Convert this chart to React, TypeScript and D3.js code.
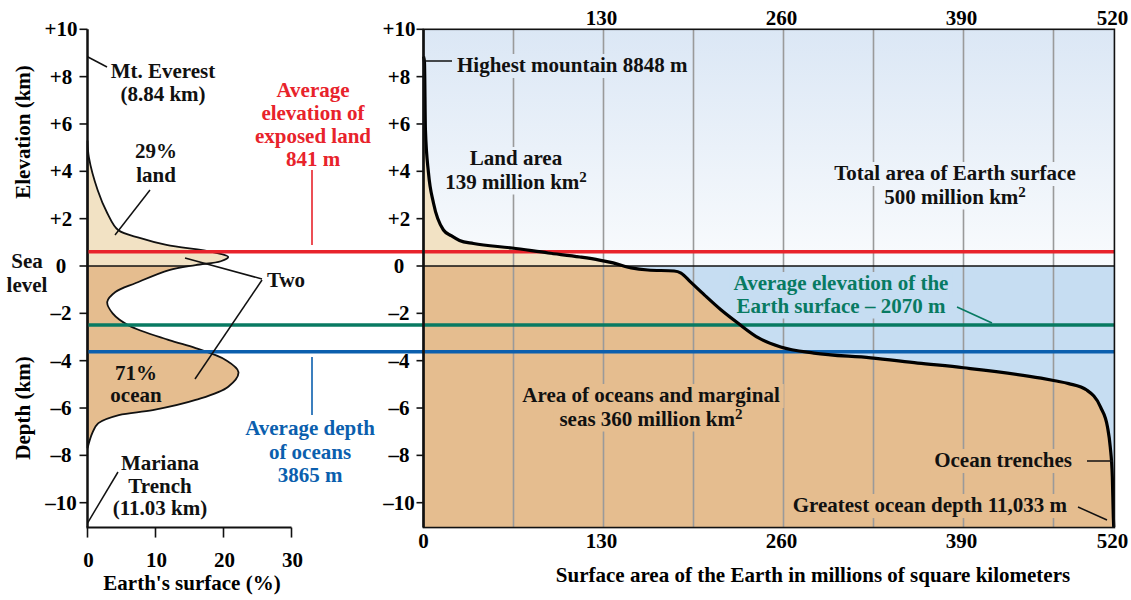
import * as d3 from "d3";
import * as React from "react";

// axis ticks
const elevTicks = [10, 8, 6, 4, 2, 0, -2, -4, -6, -8, -10];
const pctTicks = [0, 10, 20, 30];
const areaTicks = [0, 130, 260, 390, 520];
const gridAreas = [65, 130, 195, 260, 325, 390, 455];

// frequency distribution of elevations (left panel)
const distElevation = [
  5.3, 4.6, 3.2, 2.24, 1.52, 1.18, 0.89, 0.59, 0.38, 0.2, 0.04, -0.17, -0.72,
  -1.1, -1.52, -2.0, -2.5, -3.13, -3.47, -3.97, -4.48, -5.1, -5.66, -6.09, -6.3,
  -6.64, -7.06, -7.7,
];
const distPercent = [
  0, 0.2, 1.5, 2.9, 4.5, 7.8, 11.6, 18.4, 20.7, 19.6, 15.9, 12.0, 7.1, 4.1, 2.9,
  3.7, 6.0, 12.0, 15.9, 20.3, 22.2, 20.7, 15.9, 9.6, 4.6, 1.6, 0.7, 0,
];

// hypsographic curve (right panel)
const hypsoArea = [
  0, 0.7, 1.4, 3.6, 7.2, 14.4, 20, 26, 36.1, 64, 90, 113, 127, 137, 150, 162,
  181, 186, 193, 203, 215, 227, 242, 258, 282, 323, 357, 390, 446, 456, 466,
  479, 489, 494, 496, 497.5, 498.2, 498.5,
];
const hypsoElevation = [
  8.85, 8.6, 5.75, 3.93, 2.66, 1.52, 1.28, 1.08, 0.95, 0.76, 0.55, 0.38, 0.25,
  0.13, -0.08, -0.17, -0.21, -0.3, -0.68, -1.23, -1.86, -2.41, -3.04, -3.42,
  -3.68, -3.88, -4.1, -4.3, -4.74, -4.85, -4.97, -5.24, -5.96, -6.8, -7.65,
  -8.92, -10.6, -11.03,
];

// reference levels (km)
const landMean = 0.6;
const earthMean = -2.49;
const oceanMean = -3.62;
const areaEnd = 499;
const depthBottom = -11.05;

const FONT = '"Liberation Serif", "Times New Roman", serif';
const FS = 21;
const RED = "#e8232b";
const TEAL = "#087a62";
const BLUE = "#0b5fae";
const BEIGE = "#f2e2c4";
const TAN = "#e5bd8f";
const WATER = "#c6ddf2";

let ctx: CanvasRenderingContext2D | null = null;
const textWidth = (s: string) => {
  if (!ctx) ctx = document.createElement("canvas").getContext("2d");
  if (!ctx) return s.length * FS * 0.5;
  ctx.font = `bold ${FS}px "Liberation Serif"`;
  return ctx.measureText(s).width;
};

const fmt = (v: number) => (v > 0 ? `+${v}` : v < 0 ? `\u2013${-v}` : "0");

// "^" marks a superscript 2
const renderLine = (l: string) => {
  const parts = l.split("^");
  if (parts.length === 1) return l;
  return (
    <>
      {parts[0]}
      <tspan dy={-7} fontSize={15}>
        2
      </tspan>
    </>
  );
};

interface ILabelProps {
  x: number;
  y: number;
  lines: string[];
  fill?: string;
  anchor?: "start" | "middle" | "end";
  gap?: number;
  bg?: string;
}

const Label = (props: ILabelProps) => {
  const { x, y, lines, fill = "#111", anchor = "middle", gap = 23.5, bg } = props;
  return (
    <g>
      {bg &&
        lines.map((l, i) => {
          const w = textWidth(l.replace("^", "2")) + 8;
          const x0 = anchor === "middle" ? x - w / 2 : anchor === "end" ? x - w + 4 : x - 4;
          return <rect key={"b" + i} x={x0} y={y + i * gap - 18} width={w} height={24} fill={bg} />;
        })}
      {lines.map((l, i) => (
        <text key={i} x={x} y={y + i * gap} textAnchor={anchor} fill={fill}>
          {renderLine(l)}
        </text>
      ))}
    </g>
  );
};

const App = () => {
  const yS = d3.scaleLinear().domain([10, -10]).range([29.3, 502.7]);
  const pS = d3.scaleLinear().domain([0, 30]).range([87.5, 291.5]);
  const aS = d3.scaleLinear().domain([0, 520]).range([423.5, 1143.5]);

  const y0 = yS(0);
  const yTop = yS(10);
  const yBot = yS(depthBottom);
  const xL = aS(0);
  const xR = aS(areaEnd);

  const distPts: [number, number][] = distPercent.map((p, i) => [pS(p), yS(distElevation[i])]);
  const distPath = d3.line().curve(d3.curveCatmullRom.alpha(0.5))(distPts) + "Z";

  const hypso = hypsoArea.map((a, i) => ({ a, e: hypsoElevation[i] }));
  const hypsoLine = d3
    .line<{ a: number; e: number }>()
    .x((d) => aS(d.a))
    .y((d) => yS(d.e))
    .curve(d3.curveMonotoneX)(hypso);
  const hypsoFill = d3
    .area<{ a: number; e: number }>()
    .x((d) => aS(d.a))
    .y0(yBot)
    .y1((d) => yS(d.e))
    .curve(d3.curveMonotoneX)(hypso);

  const levels = [
    { v: landMean, c: RED },
    { v: earthMean, c: TEAL },
    { v: oceanMean, c: BLUE },
  ];

  return (
    <svg
      width={1131}
      height={600}
      style={{ position: "absolute", left: 0, top: 0, background: "#fff" }}
      fontFamily={FONT}
      fontWeight="bold"
      fontSize={FS}
    >
      <defs>
        <linearGradient id="sky" gradientUnits="userSpaceOnUse" x1={0} y1={yTop} x2={0} y2={y0}>
          <stop offset="0" stopColor="#dbe7f5" />
          <stop offset="1" stopColor="#f9fbfd" />
        </linearGradient>
        <clipPath id="above0">
          <rect x={0} y={0} width={1131} height={y0} />
        </clipPath>
        <clipPath id="below0">
          <rect x={0} y={y0} width={1131} height={600 - y0} />
        </clipPath>
        <clipPath id="distClip">
          <path d={distPath} />
        </clipPath>
      </defs>

      {/* ---------- left panel ---------- */}
      <path d={distPath} fill={BEIGE} clipPath="url(#above0)" />
      <path d={distPath} fill={TAN} clipPath="url(#below0)" />
      <line x1={pS(0)} x2={pS(30)} y1={y0} y2={y0} stroke="#111" strokeWidth={1.5} clipPath="url(#distClip)" />
      <path d={distPath} fill="none" stroke="#111" strokeWidth={1.8} />

      {/* left axes */}
      <line x1={pS(0)} x2={pS(0)} y1={yTop} y2={yBot} stroke="#111" strokeWidth={2.5} />
      <line x1={pS(0) - 1} x2={pS(30)} y1={yBot} y2={yBot} stroke="#111" strokeWidth={2} />
      {elevTicks.map((v) => (
        <g key={"ly" + v}>
          <line x1={pS(0) - 8} x2={pS(0)} y1={yS(v)} y2={yS(v)} stroke="#111" strokeWidth={1.6} />
          <text x={61} y={yS(v) + 7} textAnchor="middle">
            {fmt(v)}
          </text>
        </g>
      ))}
      {pctTicks.map((v) => (
        <g key={"lx" + v}>
          <line x1={pS(v)} x2={pS(v)} y1={yBot} y2={yBot + 10} stroke="#111" strokeWidth={1.6} />
          <text x={pS(v) + 1} y={567} textAnchor="middle">
            {v}
          </text>
        </g>
      ))}
      <text x={192} y={590} textAnchor="middle">
        Earth's surface (%)
      </text>
      <text transform={`translate(30,132) rotate(-90)`} textAnchor="middle">
        Elevation (km)
      </text>
      <text transform={`translate(30,408) rotate(-90)`} textAnchor="middle">
        Depth (km)
      </text>
      <Label x={27} y={268} lines={["Sea", "level"]} gap={24} />

      {/* ---------- right panel ---------- */}
      <rect x={xL} y={yTop} width={xR - xL} height={y0 - yTop} fill="url(#sky)" />
      <rect x={xL} y={y0} width={xR - xL} height={yBot - y0} fill={WATER} />
      <path d={hypsoFill || ""} fill={BEIGE} clipPath="url(#above0)" />
      <path d={hypsoFill || ""} fill={TAN} clipPath="url(#below0)" />

      {gridAreas.map((a) => (
        <line key={"g" + a} x1={aS(a)} x2={aS(a)} y1={yTop} y2={yBot} stroke="#9a9a9a" strokeWidth={1.6} />
      ))}

      {/* label backgrounds break the grid lines */}
      <Label x={457} y={72} lines={["Highest mountain 8848 m"]} anchor="start" bg="url(#sky)" />
      <Label x={516} y={165} lines={["Land area", "139 million km^"]} bg="url(#sky)" />
      <Label x={955} y={180} lines={["Total area of Earth surface", "500 million km^"]} bg="url(#sky)" />
      <Label
        x={841}
        y={290}
        lines={["Average elevation of the", "Earth surface \u2013 2070 m"]}
        fill={TEAL}
        gap={22.5}
        bg={WATER}
      />
      <Label x={651} y={402} lines={["Area of oceans and marginal", "seas 360 million km^"]} bg={TAN} />
      <Label x={1072} y={467} lines={["Ocean trenches"]} anchor="end" bg={TAN} />
      <Label x={1067} y={512} lines={["Greatest ocean depth 11,033 m"]} anchor="end" bg={TAN} />

      <line x1={xL} x2={xR} y1={y0} y2={y0} stroke="#111" strokeWidth={1.5} />

      {/* reference levels across both panels */}
      {levels.map((l) => (
        <line key={l.c} x1={pS(0) + 1} x2={xR} y1={yS(l.v)} y2={yS(l.v)} stroke={l.c} strokeWidth={3.6} />
      ))}

      <path d={hypsoLine || ""} fill="none" stroke="#000" strokeWidth={3.2} strokeLinejoin="round" />

      {/* frame + axes */}
      <rect x={xL} y={yTop} width={xR - xL} height={yBot - yTop} fill="none" stroke="#111" strokeWidth={1.6} />
      <line x1={xL} x2={xL} y1={yTop} y2={yBot} stroke="#111" strokeWidth={2.6} />
      {elevTicks.map((v) => (
        <g key={"ry" + v}>
          <line x1={xL - 7} x2={xL} y1={yS(v)} y2={yS(v)} stroke="#111" strokeWidth={1.6} />
          <text x={399} y={yS(v) + 7} textAnchor="middle">
            {fmt(v)}
          </text>
        </g>
      ))}
      {areaTicks.map((v) => (
        <g key={"ax" + v}>
          {v > 0 && (
            <text x={Math.min(aS(v), xR) - 2} y={25} textAnchor="middle">
              {v}
            </text>
          )}
          <text x={Math.min(aS(v), xR) - 2 + (v === 0 ? 2 : 0)} y={548} textAnchor="middle">
            {v}
          </text>
        </g>
      ))}
      <text x={813} y={582} textAnchor="middle">
        Surface area of the Earth in millions of square kilometers
      </text>

      {/* ---------- annotations ---------- */}
      <Label x={163} y={78} lines={["Mt. Everest", "(8.84 km)"]} gap={23} />
      <line x1={pS(0)} y1={yS(8.84)} x2={107} y2={67} stroke="#111" strokeWidth={1.5} />

      <Label x={313} y={97} lines={["Average", "elevation of", "exposed land", "841 m"]} fill={RED} gap={23} />
      <line x1={312} x2={312} y1={170} y2={245} stroke={RED} strokeWidth={1.6} />

      <Label x={310} y={435} lines={["Average depth", "of oceans", "3865 m"]} fill={BLUE} gap={23.5} />
      <line x1={312} x2={312} y1={357} y2={415} stroke={BLUE} strokeWidth={1.6} />

      <Label x={156} y={158} lines={["29%", "land"]} gap={24} />
      <line x1={150} y1={190} x2={115} y2={235} stroke="#111" strokeWidth={1.5} />

      <Label x={267} y={287} lines={["Two"]} anchor="start" />
      <line x1={185} y1={258} x2={262} y2={279} stroke="#111" strokeWidth={1.5} />
      <line x1={262} y1={280} x2={195} y2={379} stroke="#111" strokeWidth={1.5} />

      <Label x={136} y={380} lines={["71%", "ocean"]} gap={22} />

      <Label x={160} y={470} lines={["Mariana", "Trench", "(11.03 km)"]} gap={22.5} />
      <line x1={118} y1={472} x2={pS(0)} y2={yS(-11.03) - 4} stroke="#111" strokeWidth={1.5} />

      <line x1={aS(1)} x2={452} y1={61} y2={61} stroke="#111" strokeWidth={1.5} />
      <line x1={957} y1={307} x2={992} y2={323} stroke={TEAL} strokeWidth={1.6} />
      <line x1={1087} x2={aS(497.8)} y1={461} y2={461} stroke="#111" strokeWidth={1.5} />
      <line x1={1078} y1={507} x2={1107} y2={520} stroke="#111" strokeWidth={1.5} />
    </svg>
  );
};

export default App;
